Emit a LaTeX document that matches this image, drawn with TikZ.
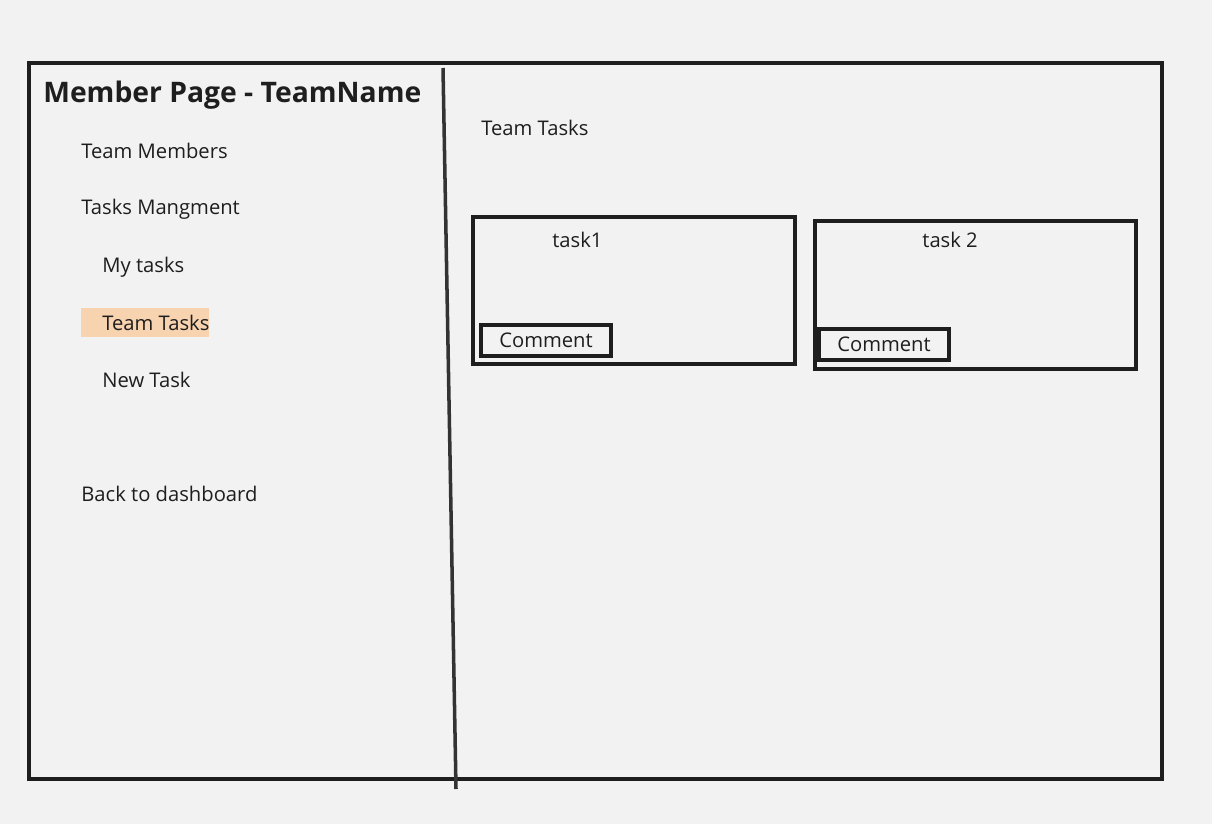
\documentclass[tikz,border=0pt]{standalone}
\usepackage{fontspec}
\setmainfont{Open Sans}
\usetikzlibrary{positioning, calc}
\definecolor{pageBg}{HTML}{F2F2F2}
\definecolor{lineCol}{HTML}{1E1E1E}
\definecolor{hiCol}{HTML}{F8D3AF}

\begin{document}
\begin{tikzpicture}[
				x=0.02cm, y=-0.02cm,
				menuItem/.style={anchor=west, inner sep=0pt, font=\fontsize{11.5}{14}\selectfont, text=lineCol},
				titleText/.style={anchor=west, inner sep=0pt, font=\bfseries\fontsize{16.1}{19}\selectfont, text=lineCol},
				frameLine/.style={draw=lineCol, line width=2.2pt},
				taskBox/.style={draw=lineCol, line width=2.2pt},
				commentBox/.style={draw=lineCol, line width=2.2pt, font=\fontsize{11.5}{14}\selectfont, text=lineCol}]
			\fill [pageBg] (0,0) rectangle (1212,824);
			\useasboundingbox (0,0) rectangle (1212,824);
			\draw [frameLine] (29,63) rectangle (1162,779);
			\coordinate (divTop) at (443,68);
			\coordinate (divBot) at (456,789);
			\draw [draw=black!80, line width=2pt] (divTop) -- (divBot);

			% side menu
			\fill [hiCol] (81,308) rectangle (209,337);
			\node [titleText] (title) at (43,95) {Member Page - TeamName};
			\node [menuItem] (members) at (81,151) {Team Members};
			\node [menuItem] (mgmt) at (81,209) {Tasks Mangment};
			\node [menuItem] (mytasks) at (102,267) {My tasks};
			\node [menuItem] (teamtasks) at (102,323) {Team Tasks};
			\node [menuItem] (newtask) at (102,380) {New Task};
			\node [menuItem] (back) at (81,494) {Back to dashboard};

			% main area
			\node [menuItem] (heading) at (481,128) {Team Tasks};
			\draw [taskBox] (473,217) rectangle (795,364);
			\node [menuItem] (taskA) at (552,240) {task1};
			\draw [commentBox] (481,325) rectangle node (commentA) {Comment} (611,356);
			\draw [taskBox] (815,221) rectangle (1136,369);
			\node [menuItem] (taskB) at (922,240) {task 2};
			\draw [commentBox] (819,329) rectangle node (commentB) {Comment} (949,360);
		\end{tikzpicture}
\end{document}
